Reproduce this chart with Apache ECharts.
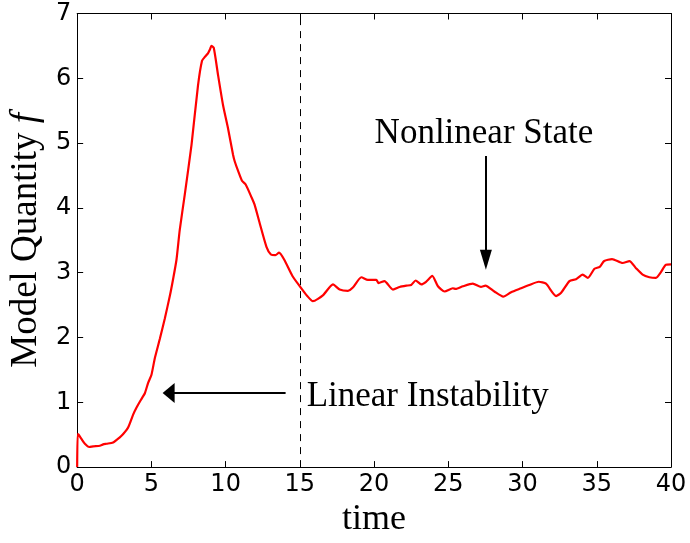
<!DOCTYPE html>
<html><head><meta charset="utf-8">
<script src="https://cdn.jsdelivr.net/npm/echarts@6/dist/echarts.min.js"></script>
<style>html,body{margin:0;padding:0;background:#fff}#c{width:690px;height:543px}</style>
</head><body><div id="c"></div>
<script>
// ---- data ----
const timeValues = [0, 0.03, 0.1, 0.3, 0.52, 0.81, 1.08, 1.53, 1.75, 1.98, 2.42, 2.87, 3.1, 3.43, 3.77, 4.0, 4.3, 4.56, 4.78, 5.0, 5.23, 5.57, 5.9, 6.24, 6.46, 6.69, 6.91, 7.25, 7.7, 8.14, 8.41, 8.6, 8.82, 8.95, 9.04, 9.2, 9.49, 9.83, 10.16, 10.5, 10.61, 10.84, 11.1, 11.35, 11.75, 11.95, 12.3, 12.75, 13.05, 13.35, 13.6, 13.95, 14.5, 15.0, 15.5, 15.88, 16.55, 17.23, 17.68, 18.24, 18.57, 19.14, 19.58, 20.15, 20.3, 20.7, 21.27, 21.72, 22.17, 22.5, 22.8, 23.18, 23.5, 23.92, 24.3, 24.75, 25.3, 25.5, 25.98, 26.65, 27.2, 27.5, 28.1, 28.7, 29.23, 29.9, 30.46, 31.09, 31.58, 32.26, 32.6, 33.16, 33.6, 34.05, 34.4, 34.84, 35.2, 35.5, 36.03, 36.74, 37.2, 37.64, 38.09, 38.54, 38.99, 39.3, 39.64, 40];
const fValues = [0, 0.51, 0.5, 0.43, 0.36, 0.31, 0.32, 0.33, 0.35, 0.36, 0.38, 0.46, 0.51, 0.61, 0.81, 0.92, 1.04, 1.14, 1.3, 1.42, 1.68, 1.98, 2.29, 2.64, 2.9, 3.2, 3.66, 4.21, 4.97, 5.89, 6.27, 6.33, 6.39, 6.45, 6.5, 6.47, 6.05, 5.58, 5.23, 4.82, 4.72, 4.57, 4.42, 4.36, 4.16, 4.05, 3.76, 3.4, 3.28, 3.27, 3.31, 3.2, 2.95, 2.79, 2.64, 2.56, 2.65, 2.82, 2.74, 2.72, 2.77, 2.93, 2.89, 2.89, 2.84, 2.87, 2.74, 2.78, 2.8, 2.81, 2.88, 2.82, 2.86, 2.95, 2.79, 2.71, 2.76, 2.75, 2.79, 2.83, 2.78, 2.8, 2.71, 2.63, 2.7, 2.76, 2.81, 2.86, 2.83, 2.64, 2.69, 2.87, 2.9, 2.97, 2.92, 3.06, 3.09, 3.18, 3.21, 3.15, 3.18, 3.07, 2.97, 2.93, 2.92, 3.0, 3.12, 3.13];
const xTickValues = [0, 5, 10, 15, 20, 25, 30, 35, 40];
const yTickValues = [0, 1, 2, 3, 4, 5, 6, 7];
const transitionTime = 15;
const linearArrow = [[14.04, 1.145], [6.16, 1.145]];
const nonlinearArrow = [[27.53, 4.8], [27.53, 3.2]];
const linearLabel = {text: 'Linear Instability', at: [15.46, 1.08]};
const nonlinearLabel = {text: 'Nonlinear State', at: [27.4, 5.15]};

const serif = 'Liberation Serif';
const sans = 'DejaVu Sans';
const chart = echarts.init(document.getElementById('c'), null, {renderer: 'canvas'});
const axisCommon = {
  type: 'value',
  axisLine: {show: true, onZero: false, lineStyle: {color: '#000', width: 1}},
  axisTick: {show: true, inside: true, length: 6, lineStyle: {color: '#000', width: 1}},
  splitLine: {show: false},
  minorTick: {show: false}
};
const xMin = xTickValues[0], xMax = xTickValues[xTickValues.length - 1];
const yMin = yTickValues[0], yMax = yTickValues[yTickValues.length - 1];
chart.setOption({
  animation: false,
  backgroundColor: '#fff',
  grid: {left: 77, top: 13.5, width: 594, height: 460, containLabel: false},
  xAxis: [
    Object.assign({}, axisCommon, {
      position: 'bottom', min: xMin, max: xMax, interval: 5,
      axisLabel: {color: '#000', fontFamily: sans, fontSize: 24, margin: 6},
      name: 'time', nameLocation: 'middle', nameGap: 33,
      nameTextStyle: {color: '#000', fontFamily: serif, fontSize: 36}
    }),
    Object.assign({}, axisCommon, {position: 'top', min: xMin, max: xMax, interval: 5, axisLabel: {show: false}})
  ],
  yAxis: [
    Object.assign({}, axisCommon, {
      position: 'left', min: yMin, max: yMax, interval: 1,
      axisLabel: {color: '#000', fontFamily: sans, fontSize: 24, margin: 6},
      name: '{a|Model Quantity }{b|f}', nameLocation: 'middle', nameGap: 31,
      nameTextStyle: {color: '#000', fontFamily: serif, fontSize: 37,
        rich: {a: {fontFamily: serif, fontSize: 37, color: '#000'}, b: {fontFamily: serif, fontSize: 37, fontStyle: 'italic', color: '#000'}}}
    }),
    Object.assign({}, axisCommon, {position: 'right', min: yMin, max: yMax, interval: 1, axisLabel: {show: false}})
  ],
  series: [
    {
      type: 'line', xAxisIndex: 0, yAxisIndex: 0,
      data: timeValues.map((t, i) => [t, fValues[i]]),
      showSymbol: false, smooth: 0.2,
      lineStyle: {color: '#ff0000', width: 2.2},
      markLine: {
        silent: true, symbol: ['none', 'none'],
        label: {show: false},
        lineStyle: {color: '#000', width: 1, type: [7, 6]},
        data: [[{coord: [transitionTime, yMin]}, {coord: [transitionTime, yMax]}]]
      }
    },
    {
      type: 'line', xAxisIndex: 0, yAxisIndex: 0, data: [],
      markLine: {
        silent: true, symbol: ['none', 'triangle'],
        label: {show: false},
        lineStyle: {color: '#000', width: 2, type: 'solid'},
        itemStyle: {color: '#000'},
        data: [
          [{coord: linearArrow[0]}, {coord: linearArrow[1], symbol: 'triangle', symbolSize: [20, 12]}],
          [{coord: nonlinearArrow[0]}, {coord: nonlinearArrow[1], symbol: 'triangle', symbolSize: [12, 20]}]
        ]
      },
      markPoint: {
        silent: true, symbol: 'circle', symbolSize: 0,
        data: [
          {coord: nonlinearLabel.at, label: {show: true, position: 'inside', formatter: nonlinearLabel.text, color: '#000', fontFamily: serif, fontSize: 35}},
          {coord: linearLabel.at, label: {show: true, position: 'right', distance: 0, formatter: linearLabel.text, color: '#000', fontFamily: serif, fontSize: 35}}
        ]
      }
    }
  ]
});
</script></body></html>
